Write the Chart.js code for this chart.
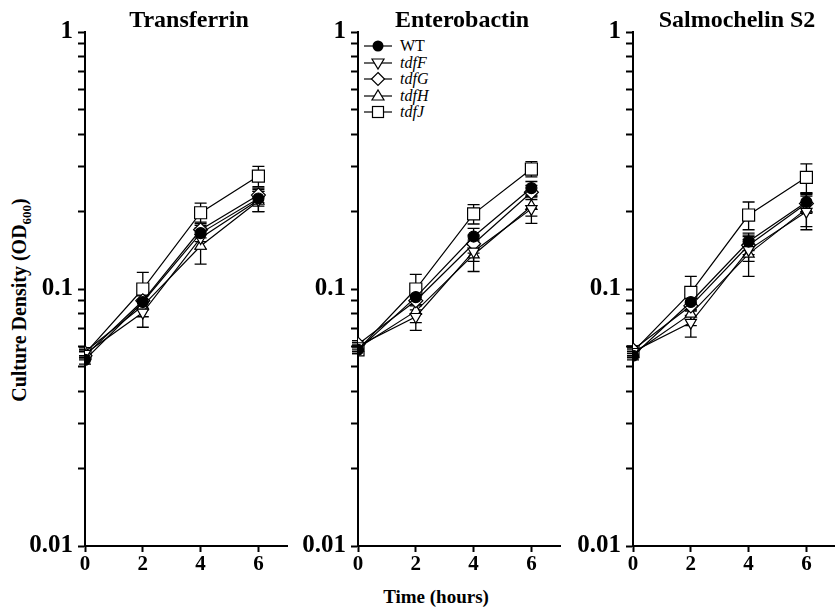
<!DOCTYPE html>
<html>
<head>
<meta charset="utf-8">
<script src="https://cdn.jsdelivr.net/npm/chart.js@4"></script>
<style>
  body { margin: 0; width: 835px; height: 610px; overflow: hidden; background: #fff; position: relative; font-family: "Liberation Serif", serif; color: #000; }
  canvas { position: absolute; top: 0; }
  .title { position: absolute; top: 6px; font-weight: bold; font-size: 24px; transform: translateX(-50%); white-space: nowrap; }
  #ytitle { position: absolute; left: 21px; top: 300px; font-weight: bold; font-size: 20px; white-space: nowrap; transform: translate(-50%, -50%) rotate(-90deg); }
  #xtitle { position: absolute; left: 436px; top: 586px; font-weight: bold; font-size: 19px; white-space: nowrap; transform: translateX(-50%); }
  #legend { position: absolute; left: 364px; top: 38px; font-size: 16px; }
  #legend div { height: 16.5px; line-height: 16.5px; display: flex; align-items: center; }
  #legend svg { margin-right: 8px; }
</style>
</head>
<body>
<div id="ytitle">Culture Density (OD<sub style="font-size:13px">600</sub>)</div>
<div id="xtitle">Time (hours)</div>
<div id="legend"></div>

<script>
const times = [0, 2, 4, 6];
const xTicks = [0, 2, 4, 6];
const yMajor = [0.01, 0.1, 1];
const seriesNames = ['WT', 'tdfF', 'tdfG', 'tdfH', 'tdfJ'];
const panelTitles = ['Transferrin', 'Enterobactin', 'Salmochelin S2'];

// Transferrin
const trfWT = [0.053, 0.089, 0.165, 0.225];
const trfF  = [0.056, 0.081, 0.158, 0.222];
const trfG  = [0.055, 0.090, 0.170, 0.232];
const trfH  = [0.057, 0.086, 0.147, 0.220];
const trfJ  = [0.056, 0.100, 0.198, 0.275];
const trfWTErr = [0.002, 0.006, 0.012, 0.015];
const trfFErr  = [0.002, 0.010, 0.015, 0.022];
const trfGErr  = [0.002, 0.006, 0.012, 0.015];
const trfHErr  = [0.002, 0.008, 0.022, 0.020];
const trfJErr  = [0.002, 0.016, 0.018, 0.025];

// Enterobactin
const entWT = [0.058, 0.093, 0.160, 0.247];
const entF  = [0.060, 0.078, 0.140, 0.205];
const entG  = [0.061, 0.090, 0.150, 0.238];
const entH  = [0.059, 0.082, 0.136, 0.210];
const entJ  = [0.058, 0.100, 0.196, 0.293];
const entWTErr = [0.002, 0.006, 0.012, 0.015];
const entFErr  = [0.002, 0.009, 0.012, 0.025];
const entGErr  = [0.002, 0.007, 0.012, 0.015];
const entHErr  = [0.002, 0.008, 0.019, 0.018];
const entJErr  = [0.002, 0.014, 0.017, 0.020];

// Salmochelin S2
const salWT = [0.055, 0.089, 0.153, 0.218];
const salF  = [0.057, 0.074, 0.142, 0.200];
const salG  = [0.058, 0.086, 0.148, 0.215];
const salH  = [0.056, 0.080, 0.137, 0.205];
const salJ  = [0.057, 0.097, 0.194, 0.272];
const salWTErr = [0.002, 0.006, 0.012, 0.018];
const salFErr  = [0.002, 0.009, 0.014, 0.030];
const salGErr  = [0.002, 0.007, 0.012, 0.018];
const salHErr  = [0.002, 0.008, 0.025, 0.030];
const salJErr  = [0.002, 0.015, 0.024, 0.035];

const panelValues = [
  [trfWT, trfF, trfG, trfH, trfJ],
  [entWT, entF, entG, entH, entJ],
  [salWT, salF, salG, salH, salJ]
];
const panelErrors = [
  [trfWTErr, trfFErr, trfGErr, trfHErr, trfJErr],
  [entWTErr, entFErr, entGErr, entHErr, entJErr],
  [salWTErr, salFErr, salGErr, salHErr, salJErr]
];

// marker look per series
const markers = [
  { pointStyle: 'circle',   radius: 5.5, rotation: 0,   fill: '#000' },
  { pointStyle: 'triangle', radius: 6.5, rotation: 180, fill: '#fff' },
  { pointStyle: 'rectRot',  radius: 7,   rotation: 0,   fill: '#fff' },
  { pointStyle: 'triangle', radius: 6.5, rotation: 0,   fill: '#fff' },
  { pointStyle: 'rect',     radius: 8.5, rotation: 0,   fill: '#fff' }
];

const axisLeft = [85, 358, 633];
const yAxisWidth = 80;
const canvasW = 292, canvasH = 586;

Chart.defaults.font.family = "'Liberation Serif', serif";
Chart.defaults.color = '#000';

const errorBars = {
  id: 'errorBars',
  beforeDatasetsDraw(chart) {
    const ctx = chart.ctx;
    const xs = chart.scales.x, ys = chart.scales.y;
    ctx.save();
    ctx.strokeStyle = '#000';
    ctx.lineWidth = 1.3;
    chart.data.datasets.forEach(ds => {
      ds.data.forEach((p, i) => {
        const e = ds.errors[i];
        const x = xs.getPixelForValue(p.x);
        const y1 = ys.getPixelForValue(p.y + e);
        const y2 = ys.getPixelForValue(p.y - e);
        ctx.beginPath();
        ctx.moveTo(x, y1); ctx.lineTo(x, y2);
        ctx.moveTo(x - 6, y1); ctx.lineTo(x + 6, y1);
        ctx.moveTo(x - 6, y2); ctx.lineTo(x + 6, y2);
        ctx.stroke();
      });
    });
    ctx.restore();
  }
};

function makePanel(p) {
  const canvas = document.createElement('canvas');
  canvas.width = canvasW;
  canvas.height = canvasH;
  canvas.style.left = (axisLeft[p] - yAxisWidth) + 'px';
  document.body.appendChild(canvas);

  const title = document.createElement('div');
  title.className = 'title';
  title.textContent = panelTitles[p];
  title.style.left = (axisLeft[p] + (canvasW - yAxisWidth - 4) / 2) + 'px';
  document.body.appendChild(title);

  const datasets = seriesNames.map((name, s) => ({
    label: name,
    data: times.map((t, i) => ({ x: t, y: panelValues[p][s][i] })),
    errors: panelErrors[p][s],
    borderColor: '#000',
    borderWidth: 1.2,
    tension: 0,
    pointStyle: markers[s].pointStyle,
    pointRadius: markers[s].radius,
    pointRotation: markers[s].rotation,
    pointBackgroundColor: markers[s].fill,
    pointBorderColor: '#000',
    pointBorderWidth: 1.2
  }));

  new Chart(canvas.getContext('2d'), {
    type: 'line',
    data: { datasets: datasets },
    plugins: [errorBars],
    options: {
      responsive: false,
      animation: false,
      devicePixelRatio: 1,
      layout: { padding: { top: 32, right: 4, left: 0, bottom: 0 } },
      plugins: { legend: { display: false }, tooltip: { enabled: false } },
      scales: {
        x: {
          type: 'linear',
          min: 0,
          max: 7,
          afterBuildTicks: s => { s.ticks = xTicks.map(v => ({ value: v })); },
          afterFit: s => { s.height = 40; },
          ticks: { padding: 0, font: { size: 21, weight: 'bold' }, color: '#000' },
          grid: { drawOnChartArea: false, drawTicks: true, tickLength: 6, tickWidth: 2, tickColor: '#000' },
          border: { display: true, color: '#000', width: 2 }
        },
        y: {
          type: 'logarithmic',
          min: 0.01,
          max: 1,
          afterBuildTicks: s => {
            const t = [];
            for (let d = 0; d < yMajor.length; d++) {
              t.push({ value: yMajor[d] });
              if (d < yMajor.length - 1) {
                for (let k = 2; k <= 9; k++) t.push({ value: yMajor[d] * k });
              }
            }
            s.ticks = t;
          },
          afterFit: s => { s.width = yAxisWidth; },
          ticks: {
            autoSkip: false,
            padding: 5,
            font: { size: 25, weight: 'bold' },
            color: '#000',
            callback: v => yMajor.includes(v) ? String(v) : ''
          },
          grid: { drawOnChartArea: false, drawTicks: true, tickLength: 7, tickWidth: 2, tickColor: '#000' },
          border: { display: true, color: '#000', width: 2 }
        }
      }
    }
  });
}

for (let p = 0; p < panelTitles.length; p++) makePanel(p);

// legend (inside the middle panel)
function markerSvg(s) {
  const m = markers[s];
  const cx = 14, cy = 8;
  let shape;
  if (m.pointStyle === 'circle') shape = `<circle cx="${cx}" cy="${cy}" r="5.5" fill="#000"/>`;
  else if (m.pointStyle === 'rect') shape = `<rect x="${cx - 5.5}" y="${cy - 5.5}" width="11" height="11" fill="#fff" stroke="#000" stroke-width="1.2"/>`;
  else if (m.pointStyle === 'rectRot') shape = `<polygon points="${cx},${cy - 6.5} ${cx + 6.5},${cy} ${cx},${cy + 6.5} ${cx - 6.5},${cy}" fill="#fff" stroke="#000" stroke-width="1.2"/>`;
  else if (m.rotation === 180) shape = `<polygon points="${cx - 6},${cy - 4} ${cx + 6},${cy - 4} ${cx},${cy + 6}" fill="#fff" stroke="#000" stroke-width="1.2"/>`;
  else shape = `<polygon points="${cx - 6},${cy + 4} ${cx + 6},${cy + 4} ${cx},${cy - 6}" fill="#fff" stroke="#000" stroke-width="1.2"/>`;
  return `<svg width="28" height="16"><line x1="0" y1="${cy}" x2="28" y2="${cy}" stroke="#000" stroke-width="1.2"/>${shape}</svg>`;
}
const legend = document.getElementById('legend');
seriesNames.forEach((name, s) => {
  const row = document.createElement('div');
  const label = s === 0 ? name : `<i>${name}</i>`;
  row.innerHTML = markerSvg(s) + `<span>${label}</span>`;
  legend.appendChild(row);
});
</script>
</body>
</html>
